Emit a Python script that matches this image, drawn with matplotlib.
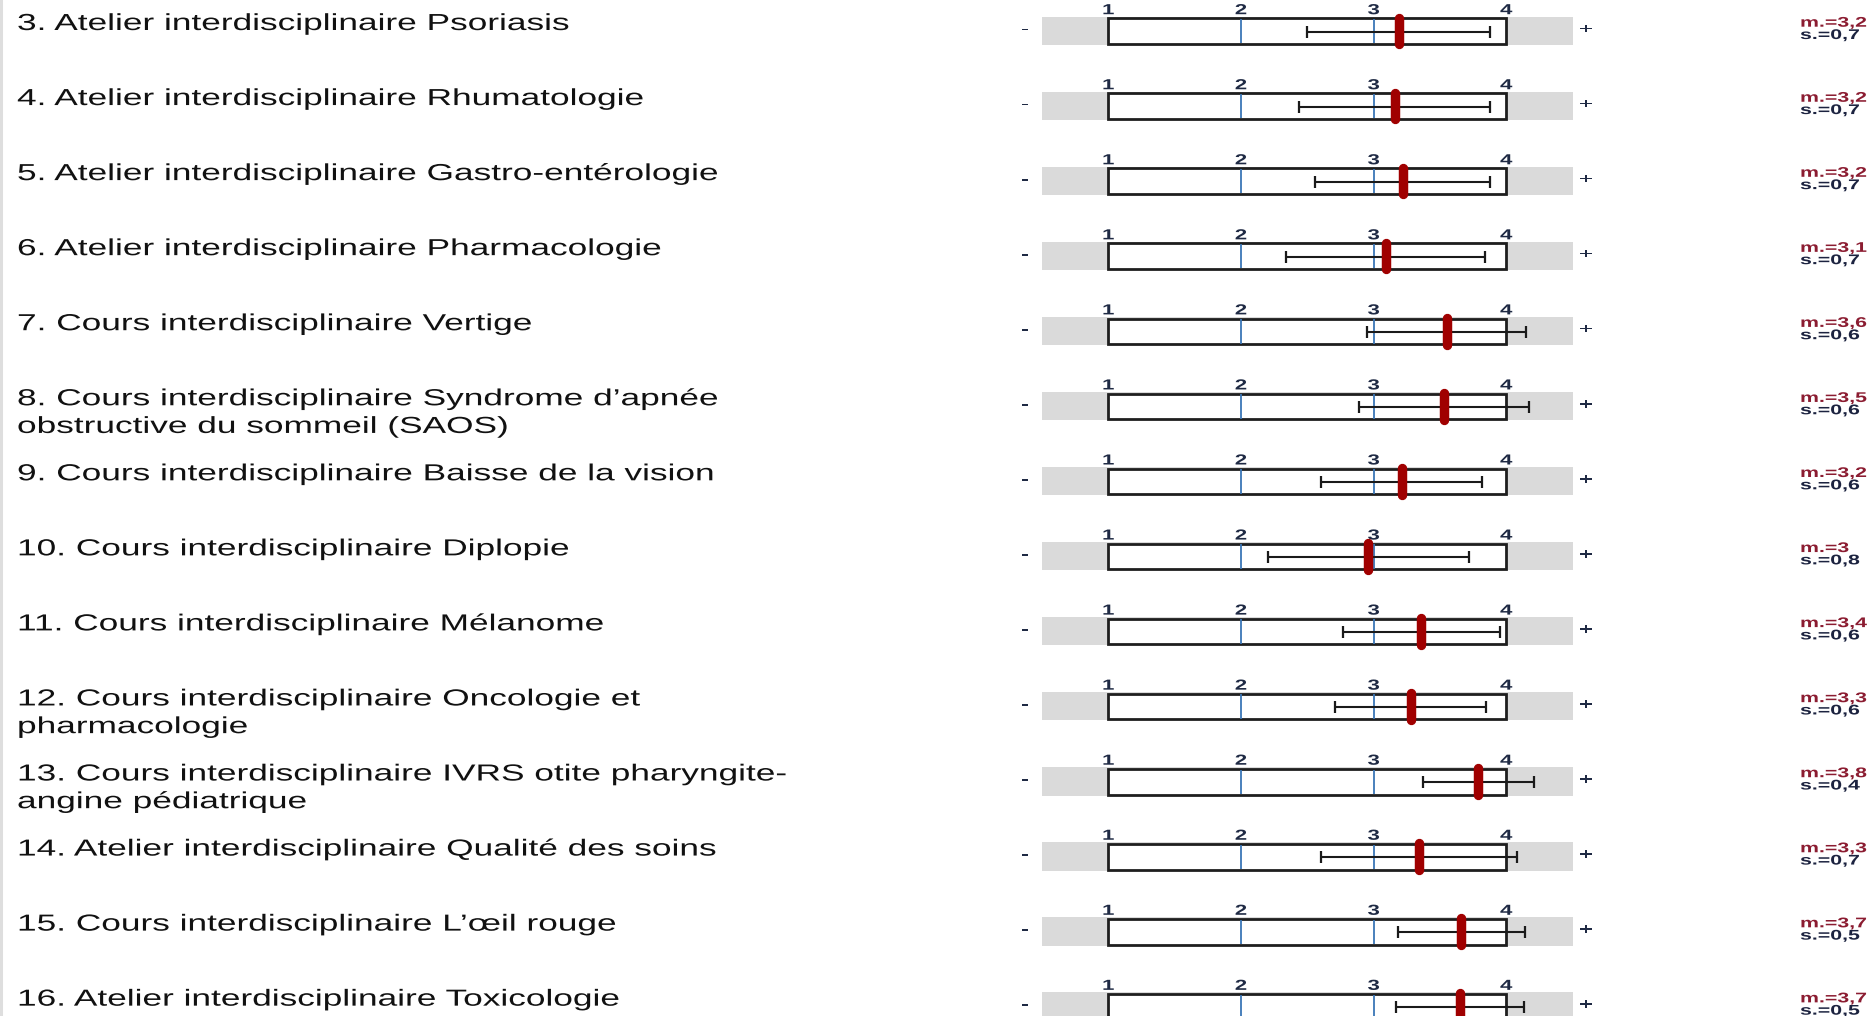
import matplotlib
matplotlib.use('Agg')
import matplotlib.pyplot as plt
from matplotlib.patches import Rectangle
from matplotlib.lines import Line2D
from matplotlib.patheffects import AbstractPathEffect
from matplotlib.transforms import Affine2D

plt.rcParams['font.family'] = ['Liberation Sans', 'DejaVu Sans']

# ---------------- data ----------------
labels = [
    "3. Atelier interdisciplinaire Psoriasis",
    "4. Atelier interdisciplinaire Rhumatologie",
    "5. Atelier interdisciplinaire Gastro-entérologie",
    "6. Atelier interdisciplinaire Pharmacologie",
    "7. Cours interdisciplinaire Vertige",
    "8. Cours interdisciplinaire Syndrome d’apnée\nobstructive du sommeil (SAOS)",
    "9. Cours interdisciplinaire Baisse de la vision",
    "10. Cours interdisciplinaire Diplopie",
    "11. Cours interdisciplinaire Mélanome",
    "12. Cours interdisciplinaire Oncologie et\npharmacologie",
    "13. Cours interdisciplinaire IVRS otite pharyngite-\nangine pédiatrique",
    "14. Atelier interdisciplinaire Qualité des soins",
    "15. Cours interdisciplinaire L’œil rouge",
    "16. Atelier interdisciplinaire Toxicologie",
]
means = [3.19, 3.16, 3.22, 3.09, 3.55, 3.53, 3.21, 2.96, 3.36, 3.28, 3.79, 3.34, 3.66, 3.65]
sds = [0.69, 0.72, 0.66, 0.75, 0.60, 0.64, 0.61, 0.76, 0.59, 0.57, 0.42, 0.74, 0.48, 0.48]
mean_txt = ["3,2", "3,2", "3,2", "3,1", "3,6", "3,5", "3,2", "3", "3,4", "3,3", "3,8", "3,3", "3,7", "3,7"]
sd_txt = ["0,7", "0,7", "0,7", "0,7", "0,6", "0,6", "0,6", "0,8", "0,6", "0,6", "0,4", "0,7", "0,5", "0,5"]
scale_ticks = [1, 2, 3, 4]
inner_ticks = [2, 3]
low_label, high_label = "-", "+"


# horizontal stretch of glyphs (the reference is widened)
class HStretch(AbstractPathEffect):
    def __init__(self, sx, anchor='left'):
        super().__init__()
        self.sx = sx
        self.anchor = anchor

    def draw_path(self, renderer, gc, tpath, affine, rgbFace=None):
        cx = 0.0
        if self.anchor == 'center':
            ext = tpath.get_extents()
            cx = (ext.x0 + ext.x1) / 2.0
        pre = Affine2D().translate(-cx, 0).scale(self.sx, 1.0).translate(cx, 0)
        renderer.draw_path(gc, tpath, pre + affine, rgbFace)


SX = 1.52
W, H = 1872, 1016
fig = plt.figure(figsize=(W / 100, H / 100), dpi=100)
fig.patch.set_facecolor('white')

ROW = 75.05
UNIT = 132.67
X1 = 1108.3
XL, XR = 0.3, 4.7
ax_left = X1 + (XL - 1) * UNIT
ax_w = (XR - XL) * UNIT
AX_H = 60.0

fig.add_artist(Line2D([1.0 / W, 1.0 / W], [0, 1], color='#dedede', lw=2.2))

for i, lab in enumerate(labels):
    top = i * ROW
    ax = fig.add_axes([ax_left / W, 1 - (top + AX_H) / H, ax_w / W, AX_H / H])
    ax.set_xlim(XL, XR)
    ax.set_ylim(AX_H, 0)
    ax.axis('off')

    ax.add_patch(Rectangle((0.5, 16.7), 4.0, 28.3, fc='#dadada', ec='none', zorder=1))
    ax.add_patch(Rectangle((1, 18.3), 3, 25.7, fc='white', ec='#1e1e1e', lw=2.0, zorder=2))
    ax.vlines(inner_ticks, 19.0, 43.3, colors='#3a76b6', lw=1.3, zorder=3)
    ax.errorbar(means[i], 31.7, xerr=sds[i], fmt='none', ecolor='#1a1a1a',
                elinewidth=1.5, capsize=4.0, capthick=1.6, zorder=4)
    ax.plot([means[i], means[i]], [17.7, 44.3], color='#a00000', lw=6.8,
            solid_capstyle='round', zorder=5)

    for t in scale_ticks:
        ax.text(t, 14.2, str(t), ha='center', va='baseline', fontsize=10.5,
                fontweight='bold', color='#1f2a44',
                path_effects=[HStretch(SX, 'center')])
    ax.text(0.37, 29.5, low_label, ha='center', va='center', fontsize=11,
            fontweight='bold', color='#1f2a44', path_effects=[HStretch(SX, 'center')])
    ax.text(4.60, 29.5, high_label, ha='center', va='center', fontsize=11,
            fontweight='bold', color='#1f2a44', path_effects=[HStretch(SX, 'center')])

    fig.text(17 / W, 1 - (12.0 + top) / H, lab, ha='left', va='top', fontsize=16.7,
             color='#111111', linespacing=1.26, path_effects=[HStretch(SX)])

    fig.text(1800 / W, 1 - (26.7 + top) / H, "m.=" + mean_txt[i], ha='left',
             va='baseline', fontsize=10.1, fontweight='bold', color='#8b1c31',
             path_effects=[HStretch(SX)])
    fig.text(1800 / W, 1 - (39.0 + top) / H, "s.=" + sd_txt[i], ha='left',
             va='baseline', fontsize=10.1, fontweight='bold', color='#1c2340',
             path_effects=[HStretch(SX)])

fig.savefig('out.png', dpi=100, facecolor='white')
